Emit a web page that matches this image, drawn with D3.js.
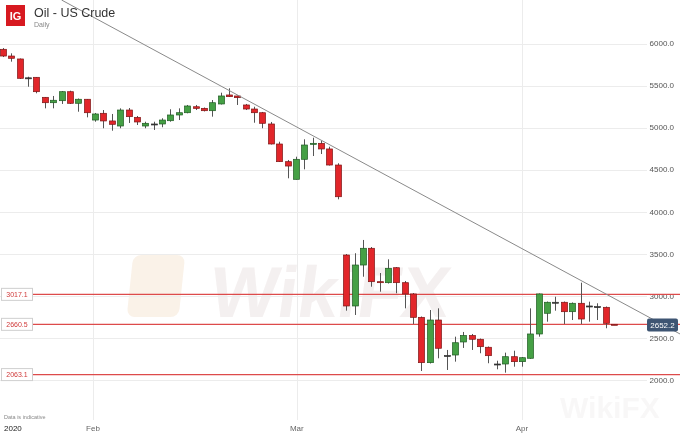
<!DOCTYPE html>
<html>
<head>
<meta charset="utf-8">
<script src="https://cdnjs.cloudflare.com/ajax/libs/d3/7.8.5/d3.min.js"></script>
<style>
body { margin: 0; background: #fff; }
svg { display: block; font-family: "Liberation Sans", Arial, sans-serif; }
</style>
</head>
<body>
<div id="chart"></div>
<script>
// daily candles, oldest first (index = trading session)
var opens  = [5931,5851,5816,5592,5598,5360,5296,5320,5427,5289,5337,5090,5170,5079,5019,5209,5122,5019,5043,5043,
              5082,5150,5177,5248,5229,5201,5281,5388,5376,5269,5221,5177,5043,4805,4595,4385,4623,4801,4813,4746,
              4555,3485,2879,3366,3565,3168,3156,3334,3156,3022,2744,2205,2712,2290,2296,2451,2528,2483,2388,2189,
              2189,2276,2217,2257,2546,2792,2923,2923,2811,2911,2879,2871,2863,2661];
var highs  = [5946,5883,5822,5605,5600,5363,5376,5435,5439,5346,5340,5174,5209,5162,5229,5233,5138,5070,5070,5111,
              5218,5229,5269,5269,5239,5328,5415,5467,5382,5281,5248,5186,5067,4832,4615,4654,4861,4880,4844,4773,
              4576,3497,3506,3664,3580,3271,3434,3342,3176,3033,2754,2831,2851,2356,2514,2570,2546,2492,2397,2228,
              2324,2347,2272,2851,3028,2932,2989,2932,2921,3156,2930,2911,2873,2661];
var lows   = [5839,5784,5578,5486,5408,5229,5229,5281,5281,5189,5122,5070,4992,4963,4992,5055,5031,4992,4972,5004,
              5070,5090,5170,5209,5192,5130,5275,5364,5269,5209,5058,4992,4799,4591,4397,4383,4504,4662,4686,4549,
              4147,2823,2772,3227,3108,3049,3146,3030,2851,2665,2106,2195,2257,2118,2217,2380,2356,2317,2198,2126,
              2086,2157,2157,2251,2514,2692,2823,2665,2712,2665,2692,2712,2614,2652];
var closes = [5851,5824,5586,5592,5427,5296,5325,5427,5289,5337,5177,5162,5079,5039,5209,5130,5067,5051,5043,5090,
              5150,5177,5257,5229,5201,5296,5376,5368,5356,5221,5177,5051,4805,4595,4543,4623,4793,4813,4746,4555,
              4178,2879,3366,3565,3168,3156,3327,3156,3022,2744,2205,2712,2376,2290,2442,2528,2483,2395,2288,2189,
              2276,2217,2264,2546,3022,2923,2923,2811,2911,2724,2879,2871,2673,2652.2];

var yTicks = [2000, 2500, 3000, 3500, 4000, 4500, 5000, 5500, 6000];
var monthLabels = ["2020", "Feb", "Mar", "Apr"];
var monthIndex = [null, 10.75, 35.1, 62];

var levels = [3017.1, 2660.5, 2063.1];
var lastPrice = 2652.2;
// trend line anchor points [session index, price]
var trendIndex = [7, 81];
var trendPrice = [6517, 2540];

var width = 680, height = 434;

var svg = d3.select("#chart").append("svg")
            .attr("width", width)
            .attr("height", height);

var x = d3.scaleLinear().domain([0, 73]).range([3, 614]);
var y = d3.scaleLinear().domain([2000, 6000]).range([379.9, 43.5]);

// watermark
var wm = svg.append("g").attr("opacity", 0.55);
wm.append("rect").attr("x", 160).attr("y", 255).attr("width", 52).attr("height", 62)
  .attr("rx", 8).attr("fill", "#f6e7d6").attr("transform", "skewX(-6)");
wm.append("text").attr("x", 212).attr("y", 317)
  .attr("font-size", 72).attr("font-weight", "bold").attr("fill", "#ece4e4")
  .attr("transform", "skewX(-8) translate(40,0)")
  .text("WikiFX");
wm.append("text").attr("x", 560).attr("y", 418)
  .attr("font-size", 30).attr("font-weight", "bold").attr("fill", "#f3f1f1")
  .text("WikiFX");

// grid
svg.append("g").selectAll("line")
   .data(yTicks)
   .enter()
   .append("line")
   .attr("x1", 0).attr("x2", 647)
   .attr("y1", function(d) { return Math.round(y(d)) + 0.5; })
   .attr("y2", function(d) { return Math.round(y(d)) + 0.5; })
   .attr("stroke", "#ececec");

var monthData = monthLabels.map(function(l, i) { return {label: l, idx: monthIndex[i]}; });

svg.append("g").selectAll("line")
   .data(monthData.filter(function(d) { return d.idx !== null; }))
   .enter()
   .append("line")
   .attr("x1", function(d) { return Math.round(x(d.idx)) + 0.5; })
   .attr("x2", function(d) { return Math.round(x(d.idx)) + 0.5; })
   .attr("y1", 0).attr("y2", 420)
   .attr("stroke", "#ececec");

// y axis labels
svg.append("g").selectAll("text")
   .data(yTicks)
   .enter()
   .append("text")
   .attr("x", 674)
   .attr("y", function(d) { return y(d); })
   .attr("dy", "0.35em")
   .attr("text-anchor", "end")
   .attr("font-size", 8)
   .attr("fill", "#555")
   .text(function(d) { return d3.format(".1f")(d); });

// x axis labels
svg.append("g").selectAll("text")
   .data(monthData)
   .enter()
   .append("text")
   .attr("x", function(d) { return d.idx === null ? 4 : x(d.idx); })
   .attr("y", 431)
   .attr("text-anchor", function(d) { return d.idx === null ? "start" : "middle"; })
   .attr("font-size", 8)
   .attr("fill", function(d) { return d.idx === null ? "#222" : "#666"; })
   .text(function(d) { return d.label; });

svg.append("text").attr("x", 4).attr("y", 419)
   .attr("font-size", 5.5).attr("fill", "#888")
   .text("Data is indicative");

// horizontal levels
svg.append("g").selectAll("line")
   .data(levels)
   .enter()
   .append("line")
   .attr("x1", 33).attr("x2", width)
   .attr("y1", function(d) { return y(d); })
   .attr("y2", function(d) { return y(d); })
   .attr("stroke", "#dd4b4b")
   .attr("stroke-width", 1.2);

var levelBox = svg.append("g").selectAll("g")
   .data(levels)
   .enter()
   .append("g");
levelBox.append("rect")
   .attr("x", 1.5).attr("width", 31).attr("height", 12)
   .attr("y", function(d) { return y(d) - 6; })
   .attr("fill", "#fff").attr("stroke", "#cfcfcf");
levelBox.append("text")
   .attr("x", 17).attr("y", function(d) { return y(d); })
   .attr("dy", "0.35em").attr("text-anchor", "middle")
   .attr("font-size", 7).attr("fill", "#d03a3a")
   .text(function(d) { return d3.format(".1f")(d); });

// candles
var candles = opens.map(function(o, i) {
  return {i: i, o: o, h: highs[i], l: lows[i], c: closes[i]};
});

var cg = svg.append("g");
cg.selectAll("line")
  .data(candles)
  .enter()
  .append("line")
  .attr("x1", function(d) { return Math.round(x(d.i)) + 0.5; })
  .attr("x2", function(d) { return Math.round(x(d.i)) + 0.5; })
  .attr("y1", function(d) { return y(d.h); })
  .attr("y2", function(d) { return y(d.l); })
  .attr("stroke", "#555");

cg.selectAll("rect")
  .data(candles)
  .enter()
  .append("rect")
  .attr("x", function(d) { return Math.round(x(d.i)) - 2.5; })
  .attr("width", 6)
  .attr("y", function(d) { return y(Math.max(d.o, d.c)); })
  .attr("height", function(d) { return Math.max(1, Math.abs(y(d.o) - y(d.c))); })
  .attr("fill", function(d) {
    if (d.o === d.c) return "#333";
    return d.c > d.o ? "#45a045" : "#e2262a";
  })
  .attr("stroke", function(d) {
    if (d.o === d.c) return "#333";
    return d.c > d.o ? "#1f5a22" : "#7c1515";
  })
  .attr("stroke-width", 0.7);

// trend line
svg.append("line")
   .attr("x1", x(trendIndex[0])).attr("y1", y(trendPrice[0]))
   .attr("x2", x(trendIndex[1])).attr("y2", y(trendPrice[1]))
   .attr("stroke", "#8a8a8a")
   .attr("stroke-width", 1);

// last price tag
svg.append("rect")
   .attr("x", 647).attr("y", y(lastPrice) - 6.5)
   .attr("width", 31).attr("height", 13).attr("rx", 2)
   .attr("fill", "#3e5573");
svg.append("text")
   .attr("x", 662.5).attr("y", y(lastPrice))
   .attr("dy", "0.35em").attr("text-anchor", "middle")
   .attr("font-size", 8).attr("fill", "#fff")
   .text(d3.format(".1f")(lastPrice));

// header
svg.append("rect").attr("x", 6).attr("y", 5).attr("width", 19).attr("height", 21)
   .attr("fill", "#d71920");
svg.append("text").attr("x", 15.5).attr("y", 20)
   .attr("text-anchor", "middle").attr("font-size", 11).attr("font-weight", "bold")
   .attr("fill", "#fff").text("IG");
svg.append("text").attr("x", 34).attr("y", 17)
   .attr("font-size", 12.5).attr("fill", "#333").text("Oil - US Crude");
svg.append("text").attr("x", 34).attr("y", 26.5)
   .attr("font-size", 7).attr("fill", "#888").text("Daily");
</script>
</body>
</html>
